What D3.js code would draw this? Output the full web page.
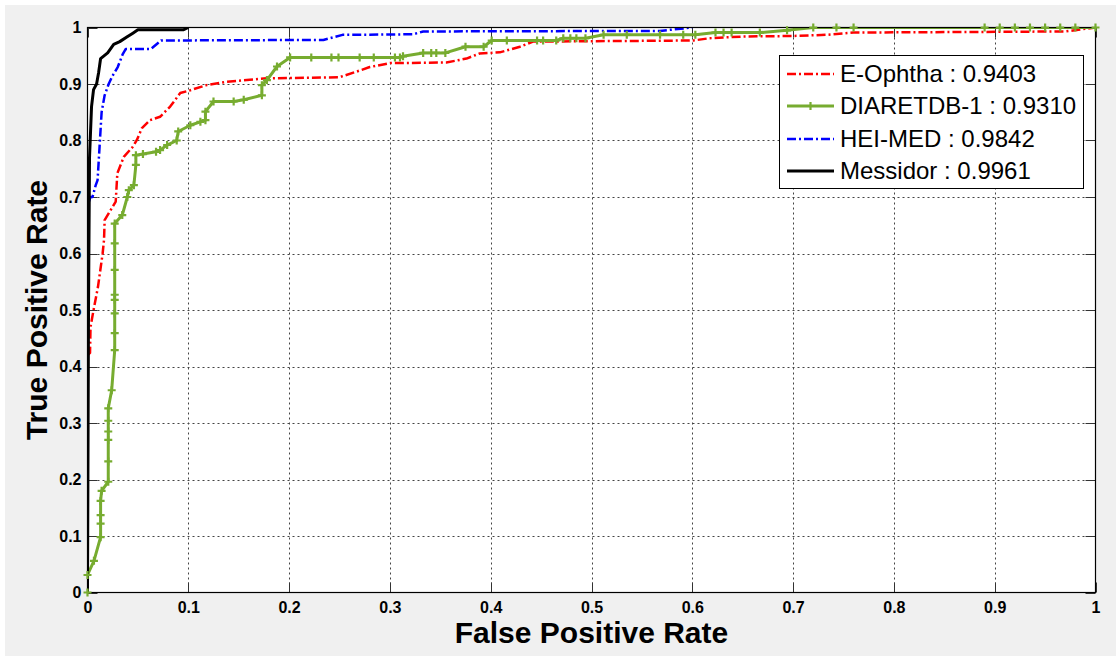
<!DOCTYPE html>
<html>
<head>
<meta charset="utf-8">
<script src="https://cdn.jsdelivr.net/npm/d3@7"></script>
<style>
  body { margin: 0; background: #fff; }
  svg { display: block; font-family: Arial, "Liberation Sans", sans-serif; }
</style>
</head>
<body>
<div id="app"></div>
<script>
// ROC curves, values
const xTicks = [0, 0.1, 0.2, 0.3, 0.4, 0.5, 0.6, 0.7, 0.8, 0.9, 1];
const yTicks = [0, 0.1, 0.2, 0.3, 0.4, 0.5, 0.6, 0.7, 0.8, 0.9, 1];
const tickLabels = ["0", "0.1", "0.2", "0.3", "0.4", "0.5", "0.6", "0.7", "0.8", "0.9", "1"];

const eOphthaFpr = [0, 0, 0.0025, 0.003, 0.006, 0.0104, 0.015, 0.0164, 0.017, 0.028, 0.0296, 0.036, 0.045, 0.049, 0.054, 0.062, 0.072, 0.082, 0.092, 0.102, 0.118, 0.138, 0.158, 0.178, 0.25, 0.267, 0.28, 0.3, 0.356, 0.376, 0.389, 0.409, 0.429, 0.442, 0.601, 0.617, 0.65, 0.7, 0.733, 0.76, 0.97, 1];
const eOphthaTpr = [0, 0.42, 0.424, 0.47, 0.5, 0.541, 0.6, 0.624, 0.659, 0.692, 0.742, 0.771, 0.789, 0.801, 0.822, 0.836, 0.842, 0.86, 0.884, 0.889, 0.898, 0.904, 0.907, 0.91, 0.912, 0.922, 0.93, 0.937, 0.938, 0.945, 0.954, 0.956, 0.966, 0.975, 0.977, 0.981, 0.984, 0.985, 0.987, 0.991, 0.993, 1];

const diaretFpr = [0, 0, 0.0064, 0.013, 0.013, 0.013, 0.013, 0.014, 0.0206, 0.0206, 0.0206, 0.0206, 0.0206, 0.0206, 0.024, 0.027, 0.027, 0.027, 0.027, 0.027, 0.027, 0.027, 0.027, 0.0345, 0.0395, 0.041, 0.046, 0.048, 0.048, 0.055, 0.068, 0.072, 0.079, 0.0885, 0.09, 0.102, 0.112, 0.117, 0.117, 0.125, 0.145, 0.155, 0.173, 0.173, 0.178, 0.188, 0.201, 0.222, 0.242, 0.249, 0.27, 0.284, 0.305, 0.31, 0.313, 0.333, 0.341, 0.346, 0.355, 0.375, 0.393, 0.401, 0.416, 0.446, 0.452, 0.465, 0.472, 0.479, 0.485, 0.494, 0.512, 0.535, 0.568, 0.591, 0.603, 0.623, 0.631, 0.639, 0.667, 0.694, 0.72, 0.743, 0.76, 0.89, 0.905, 0.92, 0.935, 0.95, 0.965, 0.98, 1];
const diaretTpr = [0, 0.031, 0.056, 0.098, 0.122, 0.137, 0.162, 0.18, 0.196, 0.232, 0.27, 0.285, 0.304, 0.326, 0.358, 0.429, 0.459, 0.494, 0.518, 0.527, 0.571, 0.618, 0.653, 0.668, 0.7, 0.712, 0.721, 0.757, 0.774, 0.776, 0.78, 0.783, 0.792, 0.8, 0.816, 0.827, 0.833, 0.836, 0.851, 0.869, 0.869, 0.872, 0.88, 0.898, 0.907, 0.931, 0.947, 0.947, 0.947, 0.947, 0.947, 0.947, 0.947, 0.947, 0.949, 0.955, 0.955, 0.955, 0.955, 0.966, 0.966, 0.977, 0.977, 0.977, 0.977, 0.977, 0.981, 0.981, 0.981, 0.981, 0.987, 0.987, 0.987, 0.987, 0.987, 0.991, 0.991, 0.991, 0.991, 0.995, 1, 1, 1, 1, 1, 1, 1, 1, 1, 1, 1];

// blue and black curves vanish under the top border once they reach 1
const heiMedFpr = [0, 0, 0.001, 0.003, 0.005, 0.008, 0.01, 0.011, 0.012, 0.013, 0.014, 0.017, 0.021, 0.025, 0.03, 0.035, 0.038, 0.063, 0.073, 0.234, 0.253, 0.323, 0.333, 0.568, 0.6];
const heiMedTpr = [0, 0.58, 0.69, 0.7, 0.7, 0.72, 0.73, 0.76, 0.79, 0.82, 0.85, 0.88, 0.9, 0.915, 0.93, 0.953, 0.962, 0.962, 0.977, 0.978, 0.987, 0.988, 0.993, 0.994, 1];

const messidorFpr = [0, 0.001, 0.002, 0.004, 0.006, 0.009, 0.011, 0.013, 0.02, 0.026, 0.032, 0.039, 0.045, 0.05, 0.095, 0.1];
const messidorTpr = [0, 0.5, 0.77, 0.86, 0.89, 0.9, 0.92, 0.945, 0.955, 0.97, 0.975, 0.983, 0.99, 0.996, 0.996, 1];

const seriesNames = ["E-Ophtha : 0.9403", "DIARETDB-1 : 0.9310", "HEI-MED : 0.9842", "Messidor : 0.9961"];

const series = [
  { name: seriesNames[0], fpr: eOphthaFpr, tpr: eOphthaTpr, color: "#ff0000", dash: "9,3,2,3", width: 2.5, marker: false },
  { name: seriesNames[1], fpr: diaretFpr, tpr: diaretTpr, color: "#77ac30", dash: null, width: 3, marker: true },
  { name: seriesNames[2], fpr: heiMedFpr, tpr: heiMedTpr, color: "#0000ff", dash: "9,3,2,3", width: 2.5, marker: false },
  { name: seriesNames[3], fpr: messidorFpr, tpr: messidorTpr, color: "#000000", dash: null, width: 3, marker: false }
];

const width = 1116, height = 656;
const svg = d3.select("#app").append("svg")
  .attr("width", width)
  .attr("height", height);

// figure background
svg.append("rect").attr("x", 5).attr("y", 5).attr("width", width - 5).attr("height", height - 5).attr("fill", "#f0f0f0");

const x = d3.scaleLinear().domain([0, 1]).range([87.5, 1095.5]);
const y = d3.scaleLinear().domain([0, 1]).range([592.5, 27.5]);

// plot area
svg.append("rect")
  .attr("x", x(0)).attr("y", y(1))
  .attr("width", x(1) - x(0)).attr("height", y(0) - y(1))
  .attr("fill", "#fff");

svg.append("clipPath").attr("id", "clip")
  .append("rect")
  .attr("x", x(0)).attr("y", y(1))
  .attr("width", x(1) - x(0)).attr("height", y(0) - y(1));

// grid
const grid = svg.append("g").attr("stroke", "#444").attr("stroke-width", 1).attr("stroke-dasharray", "2,3");
grid.selectAll(".gx").data(xTicks.slice(1, -1)).enter().append("line")
  .attr("x1", d => Math.round(x(d)) + 0.5).attr("x2", d => Math.round(x(d)) + 0.5)
  .attr("y1", y(1)).attr("y2", y(0));
grid.selectAll(".gy").data(yTicks.slice(1, -1)).enter().append("line")
  .attr("y1", d => Math.round(y(d)) + 0.5).attr("y2", d => Math.round(y(d)) + 0.5)
  .attr("x1", x(0)).attr("x2", x(1));

// axes with inward ticks (all four sides)
const tickLen = 10;
const axisBottom = d3.axisBottom(x).tickValues(xTicks).tickFormat((d, i) => tickLabels[i]).tickSize(0).tickPadding(9);
const axisLeft = d3.axisLeft(y).tickValues(yTicks).tickFormat((d, i) => tickLabels[i]).tickSize(0).tickPadding(6);

const gx = svg.append("g").attr("transform", `translate(0,${y(0)})`).call(axisBottom);
const gy = svg.append("g").attr("transform", `translate(${x(0)},0)`).call(axisLeft);
[gx, gy].forEach(g => {
  g.select(".domain").remove();
  g.selectAll("text").attr("font-size", 16).attr("font-weight", "bold").attr("fill", "#000");
});
gx.selectAll("text").attr("dy", "0.71em");

const ticks = svg.append("g").attr("stroke", "#333").attr("stroke-width", 1);
xTicks.forEach(t => {
  const px = Math.round(x(t)) + 0.5;
  ticks.append("line").attr("x1", px).attr("x2", px).attr("y1", y(0)).attr("y2", y(0) - tickLen);
  ticks.append("line").attr("x1", px).attr("x2", px).attr("y1", y(1)).attr("y2", y(1) + tickLen);
});
yTicks.forEach(t => {
  const py = Math.round(y(t)) + 0.5;
  ticks.append("line").attr("y1", py).attr("y2", py).attr("x1", x(0)).attr("x2", x(0) + tickLen);
  ticks.append("line").attr("y1", py).attr("y2", py).attr("x1", x(1)).attr("x2", x(1) - tickLen);
});

// curves (lines clipped to the axes, markers not)
const plot = svg.append("g").attr("clip-path", "url(#clip)");
const markers = svg.append("g");
const line = d3.line().x(d => x(d[0])).y(d => y(d[1]));

series.forEach(s => {
  const pts = s.fpr.map((f, i) => [f, s.tpr[i]]);
  plot.append("path")
    .attr("d", line(pts))
    .attr("fill", "none")
    .attr("stroke", s.color)
    .attr("stroke-width", s.width)
    .attr("stroke-linejoin", "round")
    .attr("stroke-dasharray", s.dash);
  if (s.marker) {
    const m = markers.append("g").attr("stroke", s.color).attr("stroke-width", 2.2);
    pts.forEach(p => {
      m.append("path").attr("d", `M${x(p[0]) - 4},${y(p[1])}h8M${x(p[0])},${y(p[1]) - 4}v8`);
    });
  }
});

// axes box
svg.insert("rect", () => markers.node())
  .attr("x", x(0)).attr("y", y(1))
  .attr("width", x(1) - x(0)).attr("height", y(0) - y(1))
  .attr("fill", "none").attr("stroke", "#000").attr("stroke-width", 1.2);

// axis titles
svg.append("text")
  .attr("x", (x(0) + x(1)) / 2).attr("y", 643)
  .attr("text-anchor", "middle")
  .attr("font-size", 30).attr("font-weight", "bold")
  .text("False Positive Rate");

svg.append("text")
  .attr("transform", `translate(47,${(y(0) + y(1)) / 2}) rotate(-90)`)
  .attr("text-anchor", "middle")
  .attr("font-size", 30).attr("font-weight", "bold")
  .text("True Positive Rate");

// legend
const legend = svg.append("g");
legend.append("rect")
  .attr("x", 779.5).attr("y", 55.5).attr("width", 304).attr("height", 133)
  .attr("fill", "#fff").attr("stroke", "#000").attr("stroke-width", 1);

const legendY = [74, 106, 139, 171];
series.forEach((s, i) => {
  const ly = legendY[i];
  legend.append("line")
    .attr("x1", 787).attr("x2", 834).attr("y1", ly).attr("y2", ly)
    .attr("stroke", s.color).attr("stroke-width", s.width)
    .attr("stroke-dasharray", s.dash);
  if (s.marker) {
    legend.append("path").attr("d", `M806.5,${ly}h8M810.5,${ly - 4}v8`)
      .attr("stroke", s.color).attr("stroke-width", 2.2);
  }
  legend.append("text")
    .attr("x", 840).attr("y", ly).attr("dy", "0.35em")
    .attr("font-size", 24)
    .text(s.name);
});
</script>
</body>
</html>
